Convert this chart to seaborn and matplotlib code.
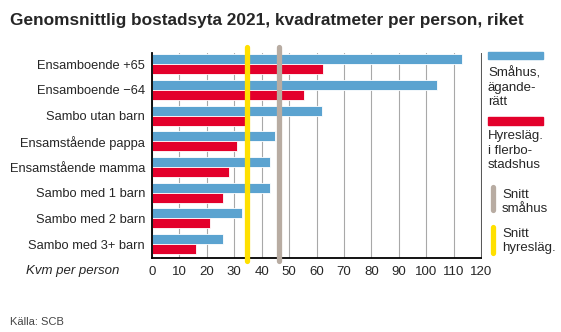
import matplotlib
matplotlib.use("Agg")
import matplotlib.pyplot as plt
import seaborn as sns
import pandas as pd
from matplotlib.transforms import blended_transform_factory
from matplotlib.patches import Rectangle
from matplotlib.lines import Line2D

categories = ["Ensamboende +65", "Ensamboende \u221264", "Sambo utan barn",
              "Ensamstående pappa", "Ensamstående mamma", "Sambo med 1 barn",
              "Sambo med 2 barn", "Sambo med 3+ barn"]
smahus = [113, 104, 62, 45, 43, 43, 33, 26]
hyres = [62.5, 55.5, 34, 31, 28, 26, 21, 16]
snitt_smahus = 46.3
snitt_hyres = 34.7
xticks = list(range(0, 121, 10))

BLUE = "#5ba3d0"
RED = "#e3002b"
YELLOW = "#ffe000"
GREY = "#b8aca2"

sns.set_theme(style="white")
plt.rcParams['font.family'] = ['Liberation Sans', 'DejaVu Sans']

df = pd.DataFrame({
    "kategori": categories * 2,
    "typ": ["Småhus"] * len(categories) + ["Hyres"] * len(categories),
    "kvm": smahus + hyres,
})

fig = plt.figure(figsize=(5.61, 3.32), dpi=100)
ax = fig.add_axes([152 / 561, 1 - 258 / 332, (481 - 152) / 561, (258 - 53) / 332])

sns.barplot(data=df, y="kategori", x="kvm", hue="typ", palette=[BLUE, RED],
            orient="h", width=0.78, ax=ax, legend=False,
            edgecolor="white", linewidth=0.6, saturation=1)

ax.set_xlim(0, 120)
ax.set_ylim(7.54, -0.44)
ax.set_xticks(xticks)
ax.set_xticklabels([str(t) for t in xticks], fontsize=9.5)
ax.tick_params(axis="x", length=0, pad=6)
ax.tick_params(axis="y", length=0, pad=5, labelsize=9.3)
ax.set_xlabel("")
ax.set_ylabel("")
ax.set_axisbelow(True)
ax.grid(axis="x", color="#a8a8a8", lw=0.8)
ax.grid(axis="y", visible=False)

for s in ["left", "bottom"]:
    ax.spines[s].set_color("black")
    ax.spines[s].set_linewidth(1.3)
ax.spines["right"].set_color("#555555")
ax.spines["right"].set_linewidth(0.7)
ax.spines["top"].set_visible(False)

trans = blended_transform_factory(ax.transData, ax.transAxes)
for val, col in [(snitt_hyres, YELLOW), (snitt_smahus, GREY)]:
    ax.plot([val, val], [-0.015, 1.027], transform=trans, color=col, lw=3.8,
            solid_capstyle="round", clip_on=False, zorder=5)

fig.text(10 / 561, 1 - 20 / 332, "Genomsnittlig bostadsyta 2021, kvadratmeter per person, riket",
         fontsize=12.4, fontweight="bold", va="center", ha="left")
fig.text(119 / 561, 1 - 271 / 332, "Kvm per person", style="italic", fontsize=9.5,
         ha="right", va="center")
fig.text(10 / 561, 1 - 322 / 332, "Källa: SCB", fontsize=8, color="#444444",
         ha="left", va="center")


def px(x, y):
    return x / 561, 1 - y / 332


fig.patches.append(Rectangle(px(488, 59), 55 / 561, 7 / 332, color=BLUE,
                             transform=fig.transFigure, figure=fig))
for t, yb in zip(["Småhus,", "ägande-", "rätt"], [76, 90.5, 105]):
    fig.text(*px(488, yb), t, fontsize=9.5, va="baseline", ha="left")
fig.patches.append(Rectangle(px(488, 125), 55 / 561, 8 / 332, color=RED,
                             transform=fig.transFigure, figure=fig))
for t, yb in zip(["Hyresläg.", "i flerbo-", "stadshus"], [139.5, 153.7, 167.7]):
    fig.text(*px(488, yb), t, fontsize=9.5, va="baseline", ha="left")

for (y0, y1, col, lines, bases) in [(187, 210, GREY, ["Snitt", "småhus"], [198.3, 211.7]),
                                    (227, 253, YELLOW, ["Snitt", "hyresläg."], [236.7, 251.2])]:
    x0, a = px(492.5, y0)
    _, b = px(492.5, y1)
    fig.lines.append(Line2D([x0, x0], [a, b], transform=fig.transFigure, color=col,
                            lw=3.8, solid_capstyle="round", figure=fig))
    for t, yb in zip(lines, bases):
        fig.text(*px(502, yb), t, fontsize=9.5, va="baseline", ha="left")

fig.savefig("out.png", dpi=100)
